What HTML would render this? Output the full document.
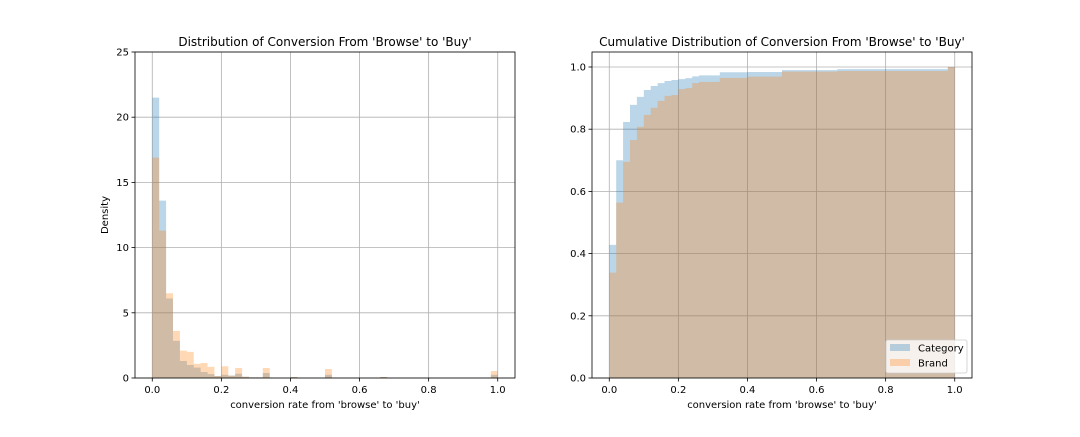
<!DOCTYPE html>
<html><head><meta charset="utf-8"><style>
html,body{margin:0;padding:0;background:#fff;}
svg text{font-family:"DejaVu Sans","Liberation Sans",sans-serif;fill:#000;}
</style></head><body>
<svg id="fig" width="1080" height="432" xmlns="http://www.w3.org/2000/svg"></svg>
<script>
const binEdgesStart = 0, binWidth = 0.02, nBins = 50;
const densityCategory = [21.5,13.6,6.1,2.85,1.3,1.0,0.8,0.46,0.3,0.15,0.25,0.18,0.33,0.1,0.05,0.05,0.38,0,0,0,0.08,0,0,0,0,0.25,0,0,0,0,0,0,0,0.08,0,0,0,0,0,0,0,0,0,0,0,0,0,0,0,0.25];
const densityBrand = [16.9,11.3,6.5,3.6,2.1,2.0,1.08,1.15,0.85,0.15,0.9,0.18,0.77,0.1,0.05,0.05,0.77,0,0,0,0.08,0,0,0,0,0.69,0,0,0,0,0,0,0,0.08,0,0,0,0,0,0,0,0,0,0,0,0,0,0,0,0.54];
const cumCategory = [0.428,0.70,0.823,0.878,0.904,0.926,0.939,0.948,0.955,0.958,0.961,0.964,0.970,0.973,0.973,0.973,0.983,0.983,0.983,0.983,0.984,0.984,0.984,0.984,0.984,0.990,0.990,0.990,0.990,0.990,0.990,0.990,0.990,0.993,0.993,0.993,0.993,0.993,0.993,0.993,0.993,0.993,0.993,0.993,0.993,0.993,0.993,0.993,0.993,1.0];
const cumBrand = [0.339,0.564,0.695,0.765,0.808,0.846,0.869,0.891,0.907,0.910,0.929,0.932,0.948,0.952,0.952,0.952,0.965,0.965,0.965,0.965,0.969,0.969,0.969,0.969,0.969,0.985,0.985,0.985,0.985,0.985,0.985,0.985,0.985,0.987,0.987,0.987,0.987,0.987,0.987,0.987,0.987,0.987,0.987,0.987,0.987,0.987,0.987,0.987,0.987,1.0];
const xTicks = [0,0.2,0.4,0.6,0.8,1.0];
const xTickLabels = ["0.0","0.2","0.4","0.6","0.8","1.0"];
const yTicksLeft = [0,5,10,15,20,25];
const yTicksRight = [0,0.2,0.4,0.6,0.8,1.0];
const yTickLabelsRight = ["0.0","0.2","0.4","0.6","0.8","1.0"];

const NS = "http://www.w3.org/2000/svg";
const svg = document.getElementById('fig');
function mk(tag, attrs, parent){const e=document.createElementNS(NS,tag);for(const k in attrs)e.setAttribute(k,attrs[k]);(parent||svg).appendChild(e);return e;}

function drawAxes(cfg){
  const g = mk('g',{});
  
  
  const L=cfg.left,R=cfg.right,T=cfg.top,B=cfg.bottom;
  const sx = v => L + (v - cfg.xmin)/(cfg.xmax-cfg.xmin)*(R-L);
  const sy = v => B - (v - cfg.ymin)/(cfg.ymax-cfg.ymin)*(B-T);
  xTicks.forEach(t=>{const l=mk('line',{x1:sx(t),x2:sx(t),y1:T,y2:B,stroke:'#b0b0b0','stroke-width':0.8},g);
    
    });
  cfg.yTicks.forEach(t=>{const l=mk('line',{x1:L,x2:R,y1:sy(t),y2:sy(t),stroke:'#b0b0b0','stroke-width':0.8},g);
    
    });
  [[cfg.s1,'#1f77b4','category'],[cfg.s2,'#ff7f0e','brand']].forEach(([arr,col,nm])=>{
    let d='M'+sx(binEdgesStart)+','+sy(0);
    arr.forEach((v,i)=>{
      const x0=sx(binEdgesStart+i*binWidth), x1=sx(binEdgesStart+(i+1)*binWidth);
      d+=' L'+x0+','+sy(v)+' L'+x1+','+sy(v);
    });
    d+=' L'+sx(binEdgesStart+arr.length*binWidth)+','+sy(0)+' Z';
    const p=mk('path',{d:d,fill:col,'fill-opacity':0.3,stroke:'none'},g);
    
    
  });
  const f=mk('rect',{x:L,y:T,width:R-L,height:B-T,fill:'none',stroke:'#000','stroke-width':0.8},g);
  
  
  xTicks.forEach((t,i)=>{mk('line',{x1:sx(t),x2:sx(t),y1:B,y2:B+3.5,stroke:'#000','stroke-width':0.8},g);
    const tx=mk('text',{x:sx(t),y:B+15,'font-size':10,'text-anchor':'middle'},g);tx.textContent=xTickLabels[i];
    
    });
  cfg.yTicks.forEach((t,i)=>{mk('line',{x1:L-3.5,x2:L,y1:sy(t),y2:sy(t),stroke:'#000','stroke-width':0.8},g);
    const tx=mk('text',{x:L-6,y:sy(t)+3.5,'font-size':10,'text-anchor':'end'},g);tx.textContent=cfg.yLabels[i];
    
    });
  const ti=mk('text',{x:(L+R)/2,y:T-6,'font-size':12,'text-anchor':'middle'},g);ti.textContent=cfg.title;
  
  
  const xl=mk('text',{x:(L+R)/2,y:B+30,'font-size':10,'text-anchor':'middle'},g);xl.textContent="conversion rate from 'browse' to 'buy'";
  
  
  if(cfg.ylabel){const yl=mk('text',{x:0,y:0,'font-size':10,'text-anchor':'middle',transform:`translate(${L-27},${(T+B)/2}) rotate(-90)`},g);yl.textContent=cfg.ylabel;
    
    }
  return g;
}
drawAxes({name:'density-chart',left:135,right:515,top:52,bottom:378,xmin:-0.05,xmax:1.05,ymin:0,ymax:25,
  yTicks:yTicksLeft,yLabels:yTicksLeft.map(String),s1:densityCategory,s2:densityBrand,
  title:"Distribution of Conversion From 'Browse' to 'Buy'",ylabel:'Density'});
drawAxes({name:'cumulative-chart',left:592,right:972,top:52,bottom:378,xmin:-0.05,xmax:1.05,ymin:0,ymax:1.0482,
  yTicks:yTicksRight,yLabels:yTickLabelsRight,s1:cumCategory,s2:cumBrand,
  title:"Cumulative Distribution of Conversion From 'Browse' to 'Buy'"});
const lg=mk('g',{});


mk('rect',{x:886,y:340,width:81,height:33,rx:2,fill:'#fff','fill-opacity':0.8,stroke:'#ccc','stroke-width':0.8},lg);
[['Category','#1f77b4',348],['Brand','#ff7f0e',363]].forEach(([t,c,y])=>{
  const e=mk('g',{},lg);
  
  
  mk('rect',{x:890,y:y-4,width:20,height:7,fill:c,'fill-opacity':0.3},e);
  const tx=mk('text',{x:918,y:y+3.5,'font-size':10},e);tx.textContent=t;
});
</script>
</body></html>
